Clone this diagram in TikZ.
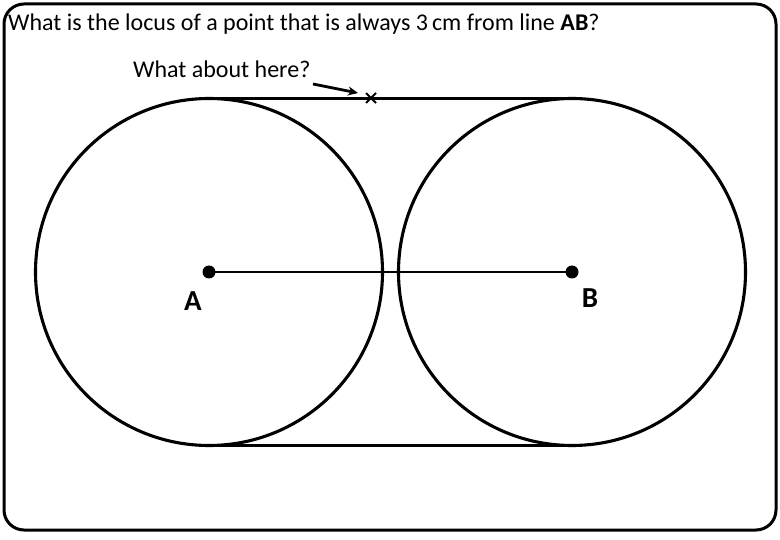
\documentclass[tikz,border=0pt]{standalone}
\usepackage{fontspec}
\setmainfont{Carlito}
\usetikzlibrary{arrows.meta,calc}
\begin{document}
\begin{tikzpicture}[x=1pt,y=-1pt,
  edge/.style={line width=3.1pt},
  dot/.style={circle,fill=black,inner sep=0pt,minimum size=13pt},
  lbl/.style={font=\fontsize{29}{32}\selectfont\bfseries},
  txt/.style={font=\fontsize{24}{28}\selectfont,inner sep=0pt,anchor=base west}]
\useasboundingbox (0,0) rectangle (780,540);
\draw[line width=3pt,rounded corners=20pt] (4,4) rectangle (776,530);
\coordinate (ca) at (209,272);
\coordinate (cb) at (572,272);
\draw[edge] (ca) circle[radius=173.5];
\draw[edge] (cb) circle[radius=173.5];
\coordinate (ta) at (209,98.5);
\coordinate (tb) at (572,98.5);
\coordinate (ba) at (209,445.5);
\coordinate (bb) at (572,445.5);
\draw[edge] (ta) -- (tb);
\draw[edge] (ba) -- (bb);
\node[dot] (A) at (ca) {};
\node[dot] (B) at (cb) {};
\draw[line width=2.6pt] (A.center) -- (B.center);
\node[lbl] (la) at (193,301) {A};
\node[lbl] (lb) at (590,298) {B};
\node[txt] (q) at (8,31) {What is the locus of a point that is always 3\,cm from line \textbf{AB}?};
\node[txt] (h) at (133,78) {What about here?};
\coordinate (x) at (371,98);
\draw[line width=1.8pt] ($(x)+(-5,-5)$) -- ($(x)+(5,5)$);
\draw[line width=1.8pt] ($(x)+(-5,5)$) -- ($(x)+(5,-5)$);
\coordinate (ah) at (358,93);
\coordinate (as) at (313,84);
\draw[line width=2.8pt,-{Stealth[length=10pt,width=9pt]}] (as) -- (ah);
\end{tikzpicture}
\end{document}
